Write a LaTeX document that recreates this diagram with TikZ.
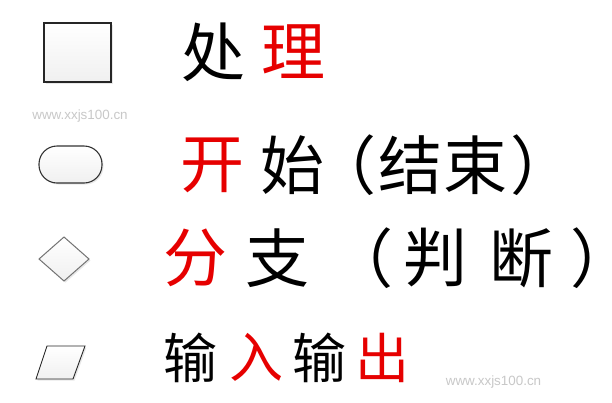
\documentclass[tikz,border=0pt]{standalone}
\usepackage{fontspec}
\setmainfont{Liberation Sans}
\newfontfamily\cjk{Noto Sans CJK SC}
\newfontfamily\cjkhalt[RawFeature=+halt]{Noto Sans CJK SC}
\usetikzlibrary{shapes.geometric,shadows}
\definecolor{wm}{RGB}{200,200,200}
\definecolor{hanred}{RGB}{230,0,0}
\tikzset{
  shapebox/.style={top color=white,bottom color=gray!12,drop shadow={opacity=0.18,shadow xshift=1.5pt,shadow yshift=-1.5pt}},
  han/.style={inner sep=0pt,font=\cjk\fontsize{64}{64}\selectfont},
  hanparen/.style={inner sep=0pt,font=\cjkhalt\fontsize{64}{64}\selectfont},
  hansmall/.style={inner sep=0pt,font=\cjk\fontsize{54}{54}\selectfont},
  watermark/.style={inner sep=0pt,text=wm,font=\fontsize{13.4}{14}\selectfont}
}
\begin{document}
\begin{tikzpicture}[x=1pt,y=-1pt]
\useasboundingbox[fill=white] (0,0) rectangle (612,402);
% shapes
\path[shapebox,draw=black!85,line width=1.4pt] (44,23) rectangle (111,82);
\node[shapebox,draw=black!80,line width=1.1pt,rounded corners=18pt,minimum width=63pt,minimum height=37pt,inner sep=0pt] (term) at (70.5,164.5) {};
\path[shapebox,draw=black!55,line width=1pt] (64,237) -- (89,259) -- (64,281) -- (39,259) -- cycle;
\path[shapebox,draw=black!85,line width=0.9pt] (47,346) -- (85,346) -- (73,379) -- (36,379) -- cycle;
% watermarks
\node[watermark] (wm1) at (80,116) {www.xxjs100.cn};
\node[watermark] (wm2) at (493.5,382) {www.xxjs100.cn};
% row 1
\node[han] (c11) at (213.5,52) {处};
\node[han,text=hanred] (c12) at (293,52) {理};
% row 2
\node[han,text=hanred] (c21) at (212,165) {开};
\node[han] (c22) at (292.5,165) {始};
\node[hanparen] (c23) at (360,165) {（};
\node[han] (c24) at (410,165) {结};
\node[han] (c25) at (475.5,165) {束};
\node[hanparen] (c26) at (526.5,165) {）};
% row 3
\node[han,text=hanred] (c31) at (195,258) {分};
\node[han] (c32) at (277.5,258) {支};
\node[hanparen] (c33) at (377,258) {（};
\node[han] (c34) at (435.5,258) {判};
\node[han] (c35) at (521.5,258) {断};
\node[hanparen] (c36) at (586,258) {）};
% row 4
\node[hansmall] (c41) at (190,357.5) {输};
\node[hansmall,text=hanred] (c42) at (256.5,357.5) {入};
\node[hansmall] (c43) at (319.5,357.5) {输};
\node[hansmall,text=hanred] (c44) at (382.5,357.5) {出};
\end{tikzpicture}
\end{document}
